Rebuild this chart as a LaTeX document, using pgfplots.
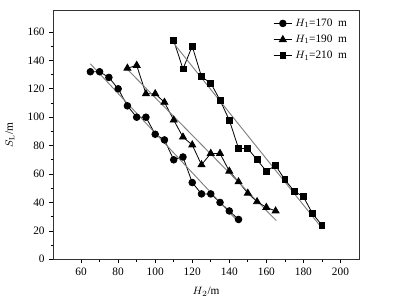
\documentclass[border=0pt]{standalone}
\usepackage{pgfplots}
\pgfplotsset{compat=1.18}
\usepackage{fontspec}
\setmainfont{Liberation Serif}
\begin{document}
\begin{tikzpicture}
\begin{axis}[
  scale only axis,
  width=229.3pt, height=186.5pt,
  xmin=45, xmax=210, ymin=0, ymax=175,
  xtick={60,80,...,200}, ytick={0,20,...,160},
  minor x tick num=1, minor y tick num=1,
  xtick pos=bottom, ytick pos=left,
  tick align=outside,
  major tick length=3pt, minor tick length=2pt,
  tick style={black, line width=0.5pt},
  axis line style={line width=0.6pt, black!80},
  /pgf/number format/assume math mode=true,
  ticklabel style={font=\fontsize{8.5}{10}\selectfont},
  label style={font=\fontsize{8.5}{10}\selectfont},
  xlabel={$H_2$/m}, ylabel={$S_\mathrm{L}$/m},
  xlabel style={yshift=-2pt},
  ylabel style={yshift=3pt},
  legend style={draw=none, fill=none, at={(0.975,0.985)}, anchor=north east,
    font=\fontsize{8.5}{10}\selectfont, row sep=1pt, inner sep=1pt},
  legend cell align=left,
  legend image code/.code={\draw[#1] (0pt,0pt) -- (14pt,0pt); \draw[#1, only marks] plot coordinates {(7pt,0pt)};},
]
\addplot[black, line width=0.6pt, mark=*, mark size=2.5pt] coordinates {
(65,132) (70,132) (75,128) (80,120) (85,108) (90,100) (95,100) (100,88) (105,84)
(110,70) (115,72) (120,54) (125,46) (130,46) (135,40) (140,34) (145,28)};
\addlegendentry{$H_\mathrm{1}$=170\ \ m}
\addplot[black, line width=0.6pt, mark=triangle*, mark size=3pt] coordinates {
(85,134.5) (90,136.5) (95,116.5) (100,116.5) (105,110.5) (110,98) (115,86) (120,80.5)
(125,66.5) (130,74.5) (135,74.5) (140,62) (145,54.5) (150,46.5) (155,40.5) (160,36.5) (165,34)};
\addlegendentry{$H_\mathrm{1}$=190\ \ m}
\addplot[black, line width=0.6pt, mark=square*, mark size=2.2pt] coordinates {
(110,154) (115,134) (120,150) (125,128.5) (130,124) (135,112) (140,98) (145,78)
(150,78) (155,70) (160,62) (165,66) (170,56) (175,48) (180,44) (185,32) (190,24)};
\addlegendentry{$H_\mathrm{1}$=210\ \ m}
\addplot[black!50, line width=0.7pt, forget plot] coordinates {(65,137.6) (145.5,25.4)};
\addplot[black!50, line width=0.7pt, forget plot] coordinates {(84.3,134.6) (165.4,27.2)};
\addplot[black!50, line width=0.7pt, forget plot] coordinates {(110.2,151.7) (190.1,21.8)};
\end{axis}
\pgfresetboundingbox
\path ([shift={(-40pt,-33.5pt)}]current axis.south west) rectangle ([shift={(30.8pt,8pt)}]current axis.north east);
\end{tikzpicture}
\end{document}
